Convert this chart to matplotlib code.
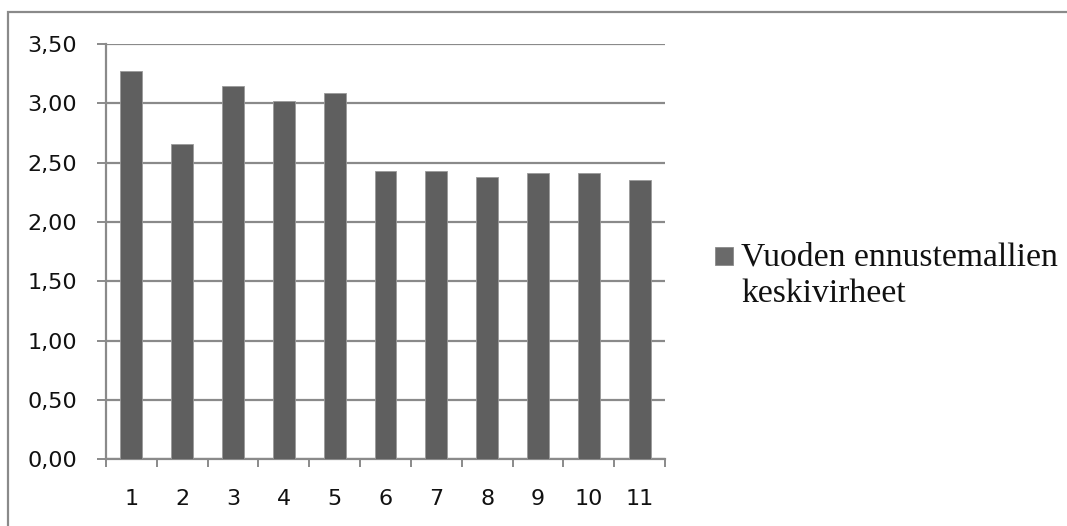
import matplotlib
matplotlib.use("Agg")
import matplotlib.pyplot as plt
from matplotlib.patches import Rectangle
from matplotlib.ticker import FixedLocator, FuncFormatter

# Mean errors of the annual forecast models
models = [1, 2, 3, 4, 5, 6, 7, 8, 9, 10, 11]
mean_errors = [3.27, 2.66, 3.15, 3.02, 3.09, 2.43, 2.43, 2.38, 2.41, 2.41, 2.35]
y_ticks = [0.0, 0.5, 1.0, 1.5, 2.0, 2.5, 3.0, 3.5]
series_label = "Vuoden ennustemallien\nkeskivirheet"

W, H, DPI = 1067, 526, 100
fig = plt.figure(figsize=(W / DPI, H / DPI), dpi=DPI)
fig.patch.set_facecolor("white")

line_gray = "#8a8a8a"
bar_gray = "#5f5f5f"

ax = fig.add_axes([106 / W, 1 - 459.4 / H, (665 - 106) / W, (459.4 - 44) / H])
ax.bar(models, mean_errors, width=0.43, color=bar_gray, edgecolor="#9a9a9a",
       linewidth=0.6, zorder=3)

ax.set_xlim(0.5, len(models) + 0.5)
ax.set_ylim(0, 3.5)
ax.set_yticks(y_ticks)
ax.yaxis.set_major_formatter(FuncFormatter(lambda v, _: f"{v:.2f}".replace(".", ",")))
ax.set_xticks(models)
ax.set_xticklabels([str(m) for m in models])
ax.xaxis.set_minor_locator(FixedLocator([m - 0.5 for m in models] + [len(models) + 0.5]))

ax.grid(axis="y", color=line_gray, linewidth=1.6, zorder=0)
for side in ("top", "right"):
    ax.spines[side].set_visible(False)
for side in ("left", "bottom"):
    ax.spines[side].set_color(line_gray)
    ax.spines[side].set_linewidth(1.6)

ax.tick_params(axis="y", which="major", length=6.5, width=1.4, color=line_gray,
               pad=14.5, labelsize=16, labelcolor="#111111")
ax.tick_params(axis="x", which="major", length=0, pad=21.5, labelsize=16,
               labelcolor="#111111")
ax.tick_params(axis="x", which="minor", length=6, width=1.4, color=line_gray)
for lab in ax.get_xticklabels() + ax.get_yticklabels():
    lab.set_family("DejaVu Sans")

# legend: square key and serif label
fig.add_artist(Rectangle((715 / W, 1 - 265 / H), 18 / W, 18 / H,
                         transform=fig.transFigure, facecolor="#6a6a6a",
                         edgecolor="#8a8a8a", linewidth=0.6))
fig.text(741 / W, 1 - 301.5 / H, series_label, family="Liberation Serif",
         fontsize=24.2, color="#111111", ha="left", va="baseline",
         linespacing=1.25)

# chart frame, running past the right and bottom edges
fig.add_artist(Rectangle((8 / W, -0.2), 1.2, 1.2 - 12 / H,
                         transform=fig.transFigure, fill=False,
                         edgecolor=line_gray, linewidth=1.6))

fig.savefig("out.png", dpi=DPI)
